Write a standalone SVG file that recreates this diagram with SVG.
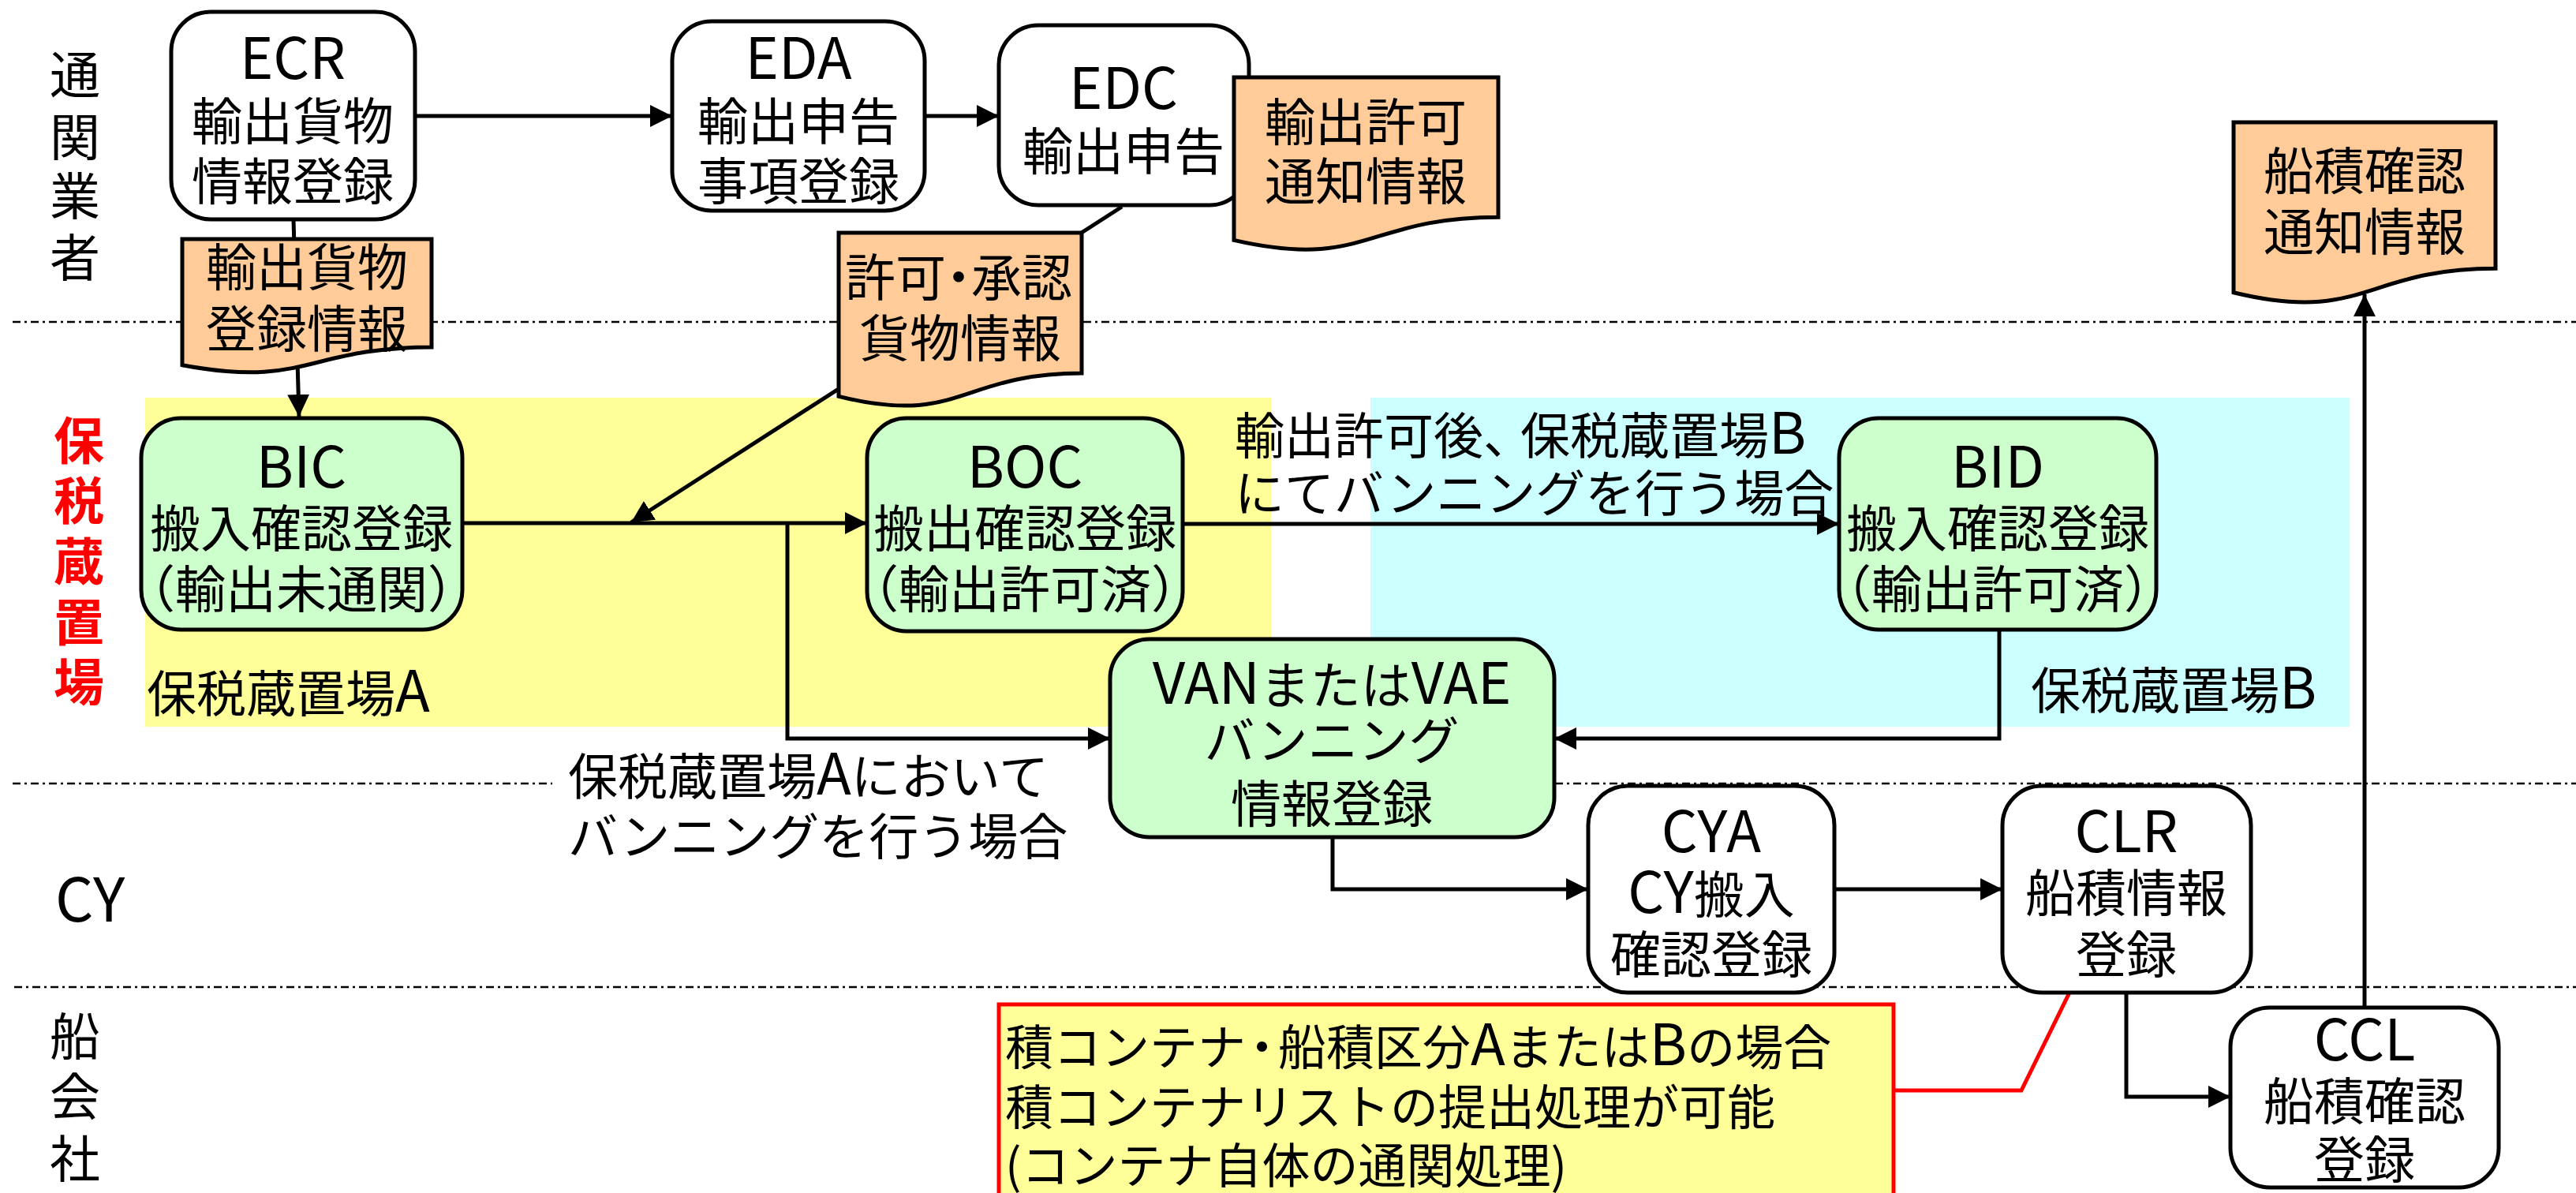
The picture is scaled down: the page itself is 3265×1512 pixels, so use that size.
<svg xmlns="http://www.w3.org/2000/svg" width="3265" height="1512" viewBox="0 0 3265 1512">
<defs>
<style>
text{font-family:"Noto Sans CJK JP","Noto Sans",sans-serif;fill:#000}
.n{font-size:64px;text-anchor:middle}
.L{font-size:72px}
.lane{font-size:64px;text-anchor:middle}
.red{fill:#FF0000;font-weight:bold}
.lbl{font-size:63px}
.note{font-size:61px}
.box{stroke:#000;stroke-width:5}
.w{fill:#fff}
.g{fill:#CCFFCC}
.doc{fill:#FFCC99;stroke:#000;stroke-width:5}
.c{fill:none;stroke:#000;stroke-width:5}
.dd{stroke:#000;stroke-width:2.5;stroke-dasharray:10 5 3 5;fill:none}
</style>
<marker id="a" markerUnits="userSpaceOnUse" markerWidth="30" markerHeight="30" refX="28" refY="14" orient="auto"><path d="M0,0 L28,14 L0,28 Z" fill="#000"/></marker>
</defs>
<rect width="3265" height="1512" fill="#fff"/>
<g id="areas">
<rect x="184" y="504" width="1427" height="417" fill="#FFFF99"/>
<rect x="1737" y="504" width="1241" height="417" fill="#CCFFFF"/>
</g>
<g id="lanes">
<line x1="16" y1="408" x2="3265" y2="408" class="dd"/>
<line x1="16" y1="993" x2="3265" y2="993" class="dd"/>
<line x1="18" y1="1251" x2="3265" y2="1251" class="dd"/>
<text class="lane"><tspan x="95" y="118">通</tspan><tspan x="95" y="197">関</tspan><tspan x="95" y="272">業</tspan><tspan x="95" y="350">者</tspan></text>
<text class="lane red"><tspan x="100" y="582">保</tspan><tspan x="100" y="658">税</tspan><tspan x="100" y="735">蔵</tspan><tspan x="100" y="812">置</tspan><tspan x="100" y="888">場</tspan></text>
<text x="70" y="1168" style="font-size:76px">CY</text>
<text class="lane"><tspan x="95" y="1337">船</tspan><tspan x="95" y="1413">会</tspan><tspan x="95" y="1492">社</tspan></text>
</g>
<rect x="700" y="942" width="707" height="150" fill="#fff"/>
<g id="connectors">
<path class="c" d="M526,147 H852" marker-end="url(#a)"/>
<path class="c" d="M1172,147 H1266" marker-end="url(#a)"/>
<path class="c" d="M372,278 L379,528" marker-end="url(#a)"/>
<path class="c" d="M1422,262 L800,662" marker-end="url(#a)"/>
<path class="c" d="M586,663 H1099" marker-end="url(#a)"/>
<path class="c" d="M998,663 V936 H1407" marker-end="url(#a)"/>
<path class="c" d="M1499,664 H2331" marker-end="url(#a)"/>
<path class="c" d="M2534,798 V936 H1970" marker-end="url(#a)"/>
<path class="c" d="M1689,1061 V1127 H2013" marker-end="url(#a)"/>
<path class="c" d="M2325,1127 H2538" marker-end="url(#a)"/>
<path class="c" d="M2695,1258 V1390 H2827" marker-end="url(#a)"/>
<path class="c" d="M2997,1277 V373" marker-end="url(#a)"/>
<path d="M2623,1258 L2562,1382 H2400" fill="none" stroke="#FF0000" stroke-width="5"/>
</g>
<g id="ECR">
<rect class="box w" x="217" y="15" width="309" height="263" rx="50"/>
<text class="n"><tspan x="371" y="100" class="L">ECR</tspan><tspan x="371" y="177">輸出貨物</tspan><tspan x="371" y="253">情報登録</tspan></text>
</g>
<g id="EDA">
<rect class="box w" x="852" y="27" width="320" height="240" rx="50"/>
<text class="n"><tspan x="1012" y="100" class="L">EDA</tspan><tspan x="1012" y="177">輸出申告</tspan><tspan x="1012" y="253">事項登録</tspan></text>
</g>
<g id="EDC">
<rect class="box w" x="1266" y="32" width="317" height="228" rx="50"/>
<text class="n"><tspan x="1424" y="138" class="L">EDC</tspan><tspan x="1424" y="215">輸出申告</tspan></text>
</g>
<g id="BIC">
<rect class="box g" x="179" y="530" width="407" height="268" rx="50"/>
<text class="n"><tspan x="382" y="618" class="L">BIC</tspan><tspan x="382" y="693">搬入確認登録</tspan><tspan x="382" y="770">（輸出未通関）</tspan></text>
</g>
<g id="BOC">
<rect class="box g" x="1099" y="530" width="400" height="270" rx="50"/>
<text class="n"><tspan x="1299" y="618" class="L">BOC</tspan><tspan x="1299" y="693">搬出確認登録</tspan><tspan x="1299" y="770">（輸出許可済）</tspan></text>
</g>
<g id="BID">
<rect class="box g" x="2331" y="530" width="402" height="268" rx="50"/>
<text class="n"><tspan x="2532" y="618" class="L">BID</tspan><tspan x="2532" y="693">搬入確認登録</tspan><tspan x="2532" y="770">（輸出許可済）</tspan></text>
</g>
<g id="VAN">
<rect class="box g" x="1407" y="810" width="563" height="251" rx="50"/>
<text class="n"><tspan x="1688" y="892"><tspan class="L">VAN</tspan>または<tspan class="L">VAE</tspan></tspan><tspan x="1688" y="962">バンニング</tspan><tspan x="1688" y="1042">情報登録</tspan></text>
</g>
<g id="CYA">
<rect class="box w" x="2013" y="996" width="312" height="262" rx="50"/>
<text class="n"><tspan x="2169" y="1080" class="L">CYA</tspan><tspan x="2169" y="1157"><tspan class="L">CY</tspan>搬入</tspan><tspan x="2169" y="1233">確認登録</tspan></text>
</g>
<g id="CLR">
<rect class="box w" x="2538" y="996" width="315" height="262" rx="50"/>
<text class="n"><tspan x="2695" y="1080" class="L">CLR</tspan><tspan x="2695" y="1155">船積情報</tspan><tspan x="2695" y="1233">登録</tspan></text>
</g>
<g id="CCL">
<rect class="box w" x="2827" y="1277" width="340" height="228" rx="50"/>
<text class="n"><tspan x="2997" y="1344" class="L">CCL</tspan><tspan x="2997" y="1419">船積確認</tspan><tspan x="2997" y="1493">登録</tspan></text>
</g>
<g id="doc-ecr">
<path class="doc" d="M231,303 H547 V440.1 C389,440.1 389,492.4 231,462.7 Z"/>
<text class="n"><tspan x="389" y="362">輸出貨物</tspan><tspan x="389" y="440">登録情報</tspan></text>
</g>
<g id="doc-kyoka">
<path class="doc" d="M1063,295 H1371 V473 C1217,473 1217,540.9 1063,502.3 Z"/>
<text class="n" style="text-anchor:start"><tspan x="1071" y="375">許可<tspan dx="-16">・</tspan><tspan dx="-16">承認</tspan></tspan><tspan x="1217" y="452" style="text-anchor:middle">貨物情報</tspan></text>
</g>
<g id="doc-export">
<path class="doc" d="M1564,98 H1899 V275.2 C1731.5,275.2 1731.5,342.8 1564,304.4 Z"/>
<text class="n"><tspan x="1731" y="178">輸出許可</tspan><tspan x="1731" y="253">通知情報</tspan></text>
</g>
<g id="doc-ship">
<path class="doc" d="M2831,155 H3163 V340.3 C2997,340.3 2997,410.8 2831,370.8 Z"/>
<text class="n"><tspan x="2997" y="240">船積確認</tspan><tspan x="2997" y="317">通知情報</tspan></text>
</g>
<g id="labels">
<text class="lbl" x="186" y="902">保税蔵置場<tspan class="L">A</tspan></text>
<text class="lbl" x="2574" y="898">保税蔵置場<tspan class="L">B</tspan></text>
<text class="lbl"><tspan x="1565" y="575">輸出許可後、<tspan dx="-16">保税蔵置場</tspan><tspan class="L">B</tspan></tspan><tspan x="1565" y="648">にてバンニングを行う場合</tspan></text>
<text class="lbl"><tspan x="720" y="1007">保税蔵置場<tspan class="L">A</tspan>において</tspan><tspan x="720" y="1083">バンニングを行う場合</tspan></text>
</g>
<g id="note">
<rect x="1266" y="1273" width="1134" height="260" fill="#FFFF99" stroke="#FF0000" stroke-width="5"/>
<text class="note"><tspan x="1274" y="1350">積コンテナ<tspan dx="-10">・</tspan><tspan dx="-10">船積区分</tspan><tspan class="L">A</tspan>または<tspan class="L">B</tspan>の場合</tspan><tspan x="1274" y="1426">積コンテナリストの提出処理が可能</tspan><tspan x="1274" y="1500">(コンテナ自体の通関処理)</tspan></text>
</g>
</svg>
